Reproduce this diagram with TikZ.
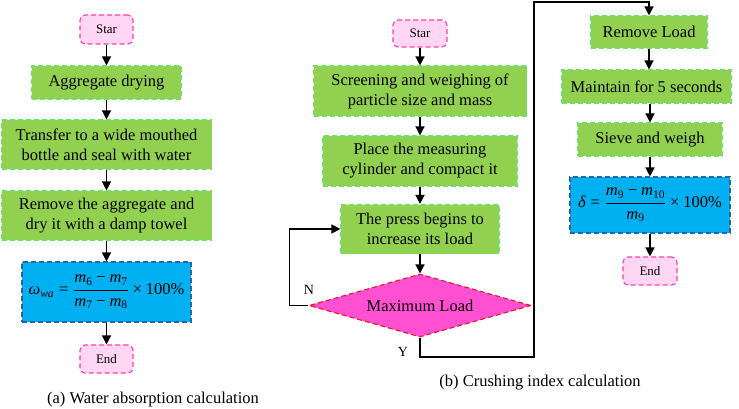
\documentclass[tikz,border=0pt]{standalone}
\usepackage{amsmath}
\usepackage{fontspec}
\setmainfont{Liberation Serif}
\usetikzlibrary{shapes.geometric,arrows.meta}
\newcommand{\mi}[1]{\text{\itshape #1}}
\newcommand{\tx}[1]{\text{#1}}
\newcommand{\mminus}{\mathbin{\text{−}}}
\newcommand{\meq}{\mathrel{\text{=}}}
\newcommand{\mtimes}{\mathbin{\text{×}}}
\definecolor{gfill}{RGB}{146,208,80}
\definecolor{gline}{RGB}{110,225,100}
\definecolor{pfill}{RGB}{255,215,245}
\definecolor{pline}{RGB}{255,60,170}
\definecolor{bfill}{RGB}{0,176,240}
\definecolor{bline}{RGB}{40,100,170}
\definecolor{dfill}{RGB}{255,80,210}
\definecolor{dline}{RGB}{240,20,40}
\tikzset{
 base/.style={draw, line width=1.1pt, dash pattern=on 5pt off 3pt, inner sep=0pt, align=center, font=\fontsize{16.5}{20}\selectfont},
 proc/.style={base, fill=gfill, draw=gline},
 term/.style={base, fill=pfill, draw=pline, rounded corners=5pt, font=\fontsize{13}{15}\selectfont},
 calc/.style={base, fill=bfill, draw=bline},
 dec/.style={base, diamond, aspect=3.52, fill=dfill, draw=dline},
 arr/.style={line width=1.3pt, -{Triangle[length=9pt,width=9pt]}},
 lbl/.style={font=\fontsize{14}{16}\selectfont, inner sep=0pt},
 captext/.style={font=\fontsize{16.5}{18}\selectfont, inner sep=0pt},
}
\begin{document}
\begin{tikzpicture}[x=1pt,y=-1pt]
\useasboundingbox (0,0) rectangle (739,409);
% (a)
\node[term, minimum width=53pt, minimum height=29pt] (s1) at (106.5,29.5) {Star};
\node[proc, minimum width=149pt, minimum height=33pt] (a1) at (106.5,82.5) {Aggregate drying};
\node[proc, minimum width=210pt, minimum height=49pt] (a2) at (106.5,144.5) {Transfer to a wide mouthed\\bottle and seal with water};
\node[proc, minimum width=210pt, minimum height=49pt] (a3) at (106.5,215.5) {Remove the aggregate and\\dry it with a damp towel};
\node[calc, minimum width=169pt, minimum height=60pt] (f1) at (106.5,292) {$\displaystyle \mi{ω}_{\mi{wa}}\meq\frac{\mi{m}_{\tx{6}}\mminus\mi{m}_{\tx{7}}}{\mi{m}_{\tx{7}}\mminus\mi{m}_{\tx{8}}}\mtimes\tx{100\%}$};
\node[term, minimum width=53pt, minimum height=28pt] (e1) at (106.5,359) {End};
\draw[arr] (s1) -- (a1);
\draw[arr] (a1) -- (a2);
\draw[arr] (a2) -- (a3);
\draw[arr] (a3) -- (f1);
\draw[arr] (f1) -- (e1);
\node[captext] (capa) at (153,400) {(a) Water absorption calculation};
% (b)
\node[term, minimum width=54pt, minimum height=27pt] (s2) at (420,33.5) {Star};
\node[proc, minimum width=213pt, minimum height=50pt] (b1) at (420,91) {Screening and weighing of\\particle size and mass};
\node[proc, minimum width=194pt, minimum height=50pt] (b2) at (420,161) {Place the measuring\\cylinder and compact it};
\node[proc, minimum width=158pt, minimum height=49pt] (b3) at (420,229) {The press begins to\\increase its load};
\node[dec, minimum width=222pt, minimum height=63pt] (d) at (420,305.5) {Maximum Load};
\node[proc, minimum width=116pt, minimum height=32pt] (r1) at (649,32) {Remove Load};
\node[proc, minimum width=169pt, minimum height=33pt] (r2) at (646.5,86.5) {Maintain for 5 seconds};
\node[proc, minimum width=144pt, minimum height=33pt] (r3) at (650,139.5) {Sieve and weigh};
\node[calc, minimum width=160pt, minimum height=56pt] (f2) at (650,205) {$\displaystyle \mi{δ}\meq\frac{\mi{m}_{\tx{9}}\mminus\mi{m}_{\tx{10}}}{\mi{m}_{\tx{9}}}\mtimes\tx{100\%}$};
\node[term, minimum width=54pt, minimum height=28pt] (e2) at (650,271) {End};
\coordinate (c1) at (534,357);
\coordinate (c2) at (534,2);
\draw[arr] (s2) -- (b1);
\draw[arr] (b1) -- (b2);
\draw[arr] (b2) -- (b3);
\draw[arr] (b3) -- (d);
\draw[arr] (d.west) -- ++(-19,0) |- (b3.west);
\draw[arr] (d.south) |- (c1) -- (c2) -| (r1.north);
\draw[arr] (r1.south) -- (r1.south |- r2.north);
\draw[arr] (r3.north |- r2.south) -- (r3.north);
\draw[arr] (r3) -- (f2);
\draw[arr] (f2) -- (e2);
\node[lbl] (nl) at (309,290) {N};
\node[lbl] (yl) at (403,352) {Y};
\node[captext] (capb) at (540,383) {(b) Crushing index calculation};
\end{tikzpicture}
\end{document}
